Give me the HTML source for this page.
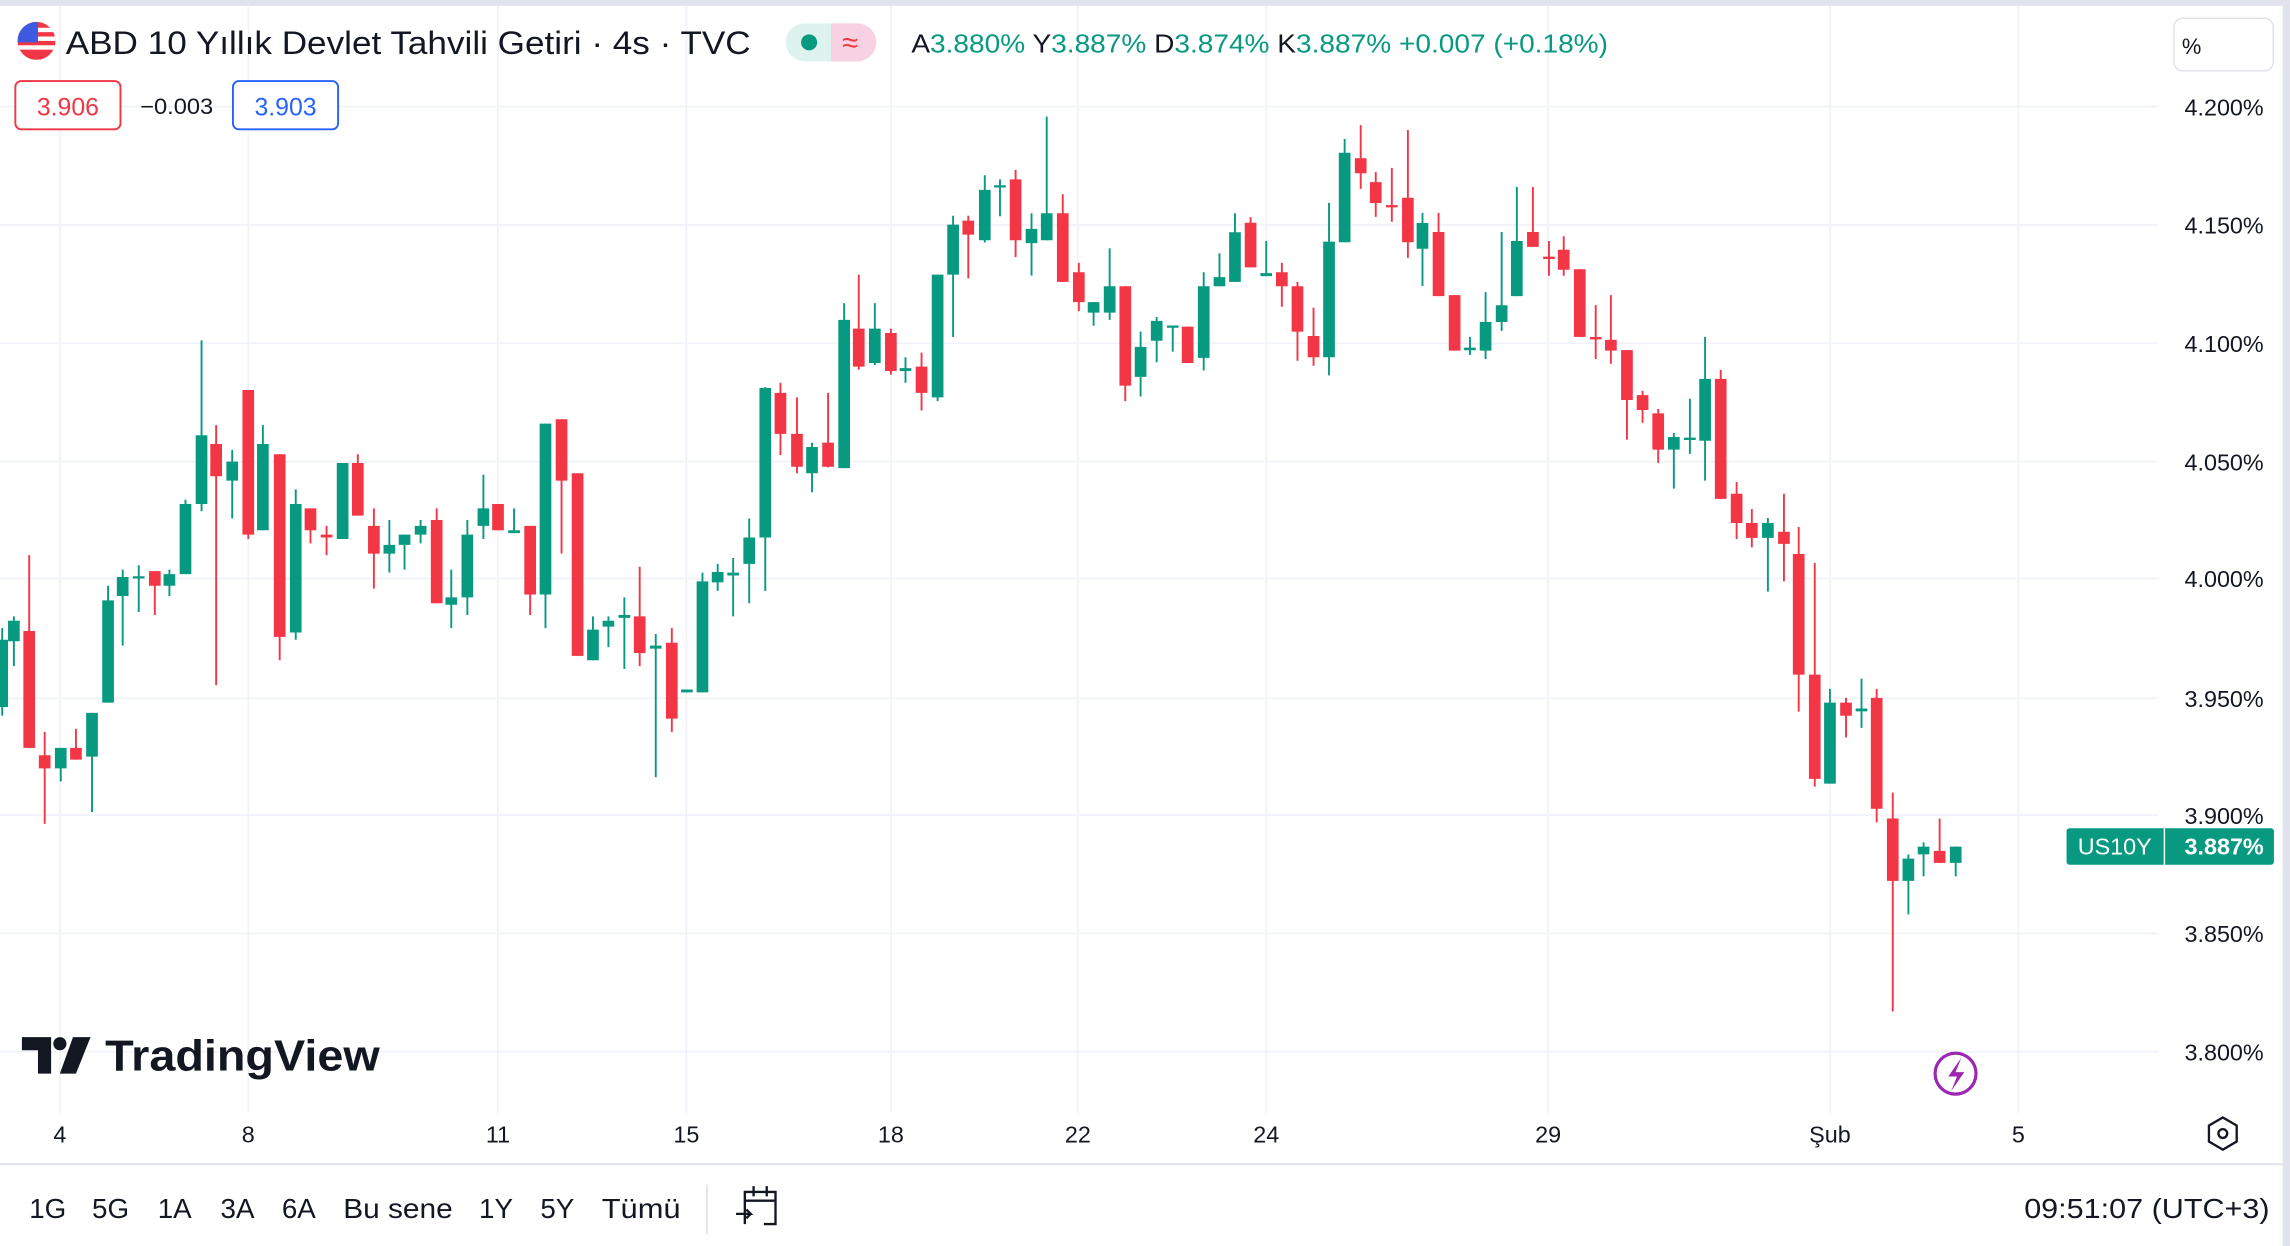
<!DOCTYPE html>
<html><head><meta charset="utf-8"><style>
html,body{margin:0;padding:0;background:#fff;}
svg{display:block;}
text{font-family:"Liberation Sans",sans-serif;fill:#131722;}
</style></head><body>
<svg width="2290" height="1246" viewBox="0 0 1568 853" preserveAspectRatio="none" xmlns="http://www.w3.org/2000/svg">
<rect x="0" y="0" width="1568" height="853" fill="#fff"/>
<rect x="0" y="0" width="1568" height="4" fill="#e0e3eb"/>
<rect x="1563" y="0" width="5" height="853" fill="#e0e3eb"/>
<!-- grid -->
<g stroke="#f0f3fa" stroke-width="1.2">
<path d="M0 73H1478M0 154H1478M0 235H1478M0 316H1478M0 396H1478M0 478H1478M0 558H1478M0 639H1478M0 720H1478"/>
<path d="M41 4V762M170 4V762M341 4V762M470 4V762M610 4V762M738 4V762M867 4V762M1060 4V762M1253 4V762M1382 4V762"/>
</g>
<line x1="0" y1="797" x2="1563" y2="797" stroke="#e0e3eb" stroke-width="1.5"/>
<!-- candles -->
<g stroke="#089981" stroke-width="1.3" fill="none">
<path d="M1.5 430V490M9.5 422V456M41.6 512V535M63 488V556M74 401V481M84 390V442M95 387V419M116 390V408M127 342V393M138 233V350M159 308V355M180 291V363M202.5 335V438M234.6 317V369M266.6 356V392M277 366V390M288 356V372M309 390V430M320 356V421M331 325V369M352 348V365M373.5 290V430M406 422V452M416.6 422V443M427.5 409V458M449 434V532M470.3 472V474M481 392V474M491.4 386V404.5M502 382V422M513 355V413M524 265V404.5M556 303V337M578 207.5V320.5M599 207.5V250M620 244.6V262M642 188V274.6M652.6 147.7V230.7M674.3 120V166M684.7 122.8V148M706.3 146V188.7M716.7 79.8V164.5M748.8 206.8V223M759.8 170V219M781 227V271.4M792 217V248M803 222.8V240.7M824.2 186.4V253.6M835 173.5V196M845.6 146V193M867 165V189M910 139V257M920.7 95.2V165.8M974 145.7V195.8M1006.5 230.6V243M1017.2 200V245.8M1028.2 158.8V226.5M1038.6 128V202.7M1146.1 296.3V334.5M1157.1 273V310.7M1167.5 230.6V329M1210.5 354.6V405M1253 471.6V536.5M1274.6 464.6V498.3M1306.7 585V626M1317.1 576.7V600M1339.1 579.6V600"/>
</g>
<g stroke="#f23645" stroke-width="1.3" fill="none">
<path d="M20 380V512M30.6 501V564M52 499V520M106 391V421M148 291V469M170 267V369M191.5 311V452M212.6 348V372M223.6 360V380M245 311V353M256 348V403M299 348V413M341 345V363M363 360V421M384.5 287V379M395.5 324V449M438 388V456M460 430V501M534.4 262V311.5M545.7 272V324M567 269V320M588 188V253M610 225V256.5M631 241.4V281M663 147.7V190.6M695.4 116.3V176M727.7 133V193M738.7 180V213M770.5 196V274.6M813.2 223.6V248.5M856.3 148.6V183M877.7 180V210M888.4 193V247M899.4 210.7V250.4M931.7 85.7V129.3M942 117.8V148.5M953 114.9V151.8M964 89V176.5M985 145.7V202.7M996 202V240M1049.6 128V169M1060.6 165V188.8M1070.7 161.7V188.8M1081.7 184.3V230.6M1092.6 208.9V245.8M1103 202V249M1114 239.7V301M1124.7 267.6V289.4M1135.4 280V316.9M1178.2 253.2V341.5M1189.1 330V369M1199.5 348.5V374.7M1221.5 338V398M1231.6 360.8V487.2M1242.6 385.4V538.5M1264 477.8V504.9M1285 471.6V563M1296 542.6V692.5M1328.1 560.3V590.7"/>
</g>
<path fill="#089981" d="M-2.5 438h8v46h-8zM5.5 425h8v14h-8zM37.6 512h8v14h-8zM59 488h8v30h-8zM70 411h8v70h-8zM80 395h8v13h-8zM91 394.5h8v1.5h-8zM112 393h8v8h-8zM123 345h8v48h-8zM134 298h8v47h-8zM155 316h8v13h-8zM176 304h8v59h-8zM198.5 345h8v88h-8zM230.6 317h8v52h-8zM262.6 373h8v6h-8zM273 366h8v7h-8zM284 360h8v6h-8zM305 409h8v5h-8zM316 366h8v43h-8zM327 348h8v12h-8zM348 363h8v2h-8zM369.5 290h8v117h-8zM402 431h8v21h-8zM412.6 425h8v4h-8zM423.5 421h8v2h-8zM445 442h8v2h-8zM466.3 472h8v2h-8zM477 398h8v76h-8zM487.4 391.6h8v7.1h-8zM498 392h8v2h-8zM509 368h8v18h-8zM520 265.6h8v102.4h-8zM552 306h8v18h-8zM574 219h8v101.5h-8zM595 225h8v23.5h-8zM616 252h8v2h-8zM638 188h8v84h-8zM648.6 153.8h8v34.2h-8zM670.3 130h8v34.5h-8zM680.7 126.8h8v1.6h-8zM702.3 156.7h8v9.7h-8zM712.7 146h8v18.5h-8zM744.8 206.8h8v7.2h-8zM755.8 196h8v18h-8zM777 237.5h8v20.5h-8zM788 219.7h8v13.6h-8zM799 222.8h8v1.6h-8zM820.2 196h8v49h-8zM831 189.7h8v6.3h-8zM841.6 159h8v34h-8zM863 187h8v2h-8zM906 165.4h8v79.2h-8zM916.7 104.6h8v61.2h-8zM970 152.7h8v17.6h-8zM1002.5 238h8v1.8h-8zM1013.2 220.4h8v19.6h-8zM1024.2 209h8v11.4h-8zM1034.6 165h8v37.7h-8zM1142.1 299.2h8v8.6h-8zM1153.1 299.6h8v1.6h-8zM1163.5 259.4h8v42.3h-8zM1206.5 358h8v10.2h-8zM1249 481h8v55.5h-8zM1270.6 485h8v2h-8zM1302.7 587.8h8v15.2h-8zM1313.1 579.6h8v5.3h-8zM1335.1 579.6h8v11.1h-8z"/>
<path fill="#f23645" d="M16 432h8v80h-8zM26.6 517h8v9h-8zM48 512h8v8h-8zM102 391h8v10h-8zM144 304h8v22h-8zM166 267h8v99h-8zM187.5 311h8v125h-8zM208.6 348h8v15h-8zM219.6 366h8v2h-8zM241 317h8v36h-8zM252 360h8v19h-8zM295 356h8v57h-8zM337 345h8v18h-8zM359 360h8v47h-8zM380.5 287h8v42h-8zM391.5 324h8v125h-8zM434 422h8v25h-8zM456 440h8v52h-8zM530.4 269h8v28h-8zM541.7 297h8v22.5h-8zM563 303h8v16.5h-8zM584 225h8v26h-8zM606 228h8v26h-8zM627 251h8v18h-8zM659 151h8v9.6h-8zM691.4 122.8h8v41.7h-8zM723.7 146h8v47h-8zM734.7 186.4h8v20.4h-8zM766.5 196h8v68h-8zM809.2 223.6h8v24.9h-8zM852.3 152.5h8v30.5h-8zM873.7 186.4h8v9.6h-8zM884.4 196h8v31h-8zM895.4 230h8v14.6h-8zM927.7 108.3h8v10.3h-8zM938 124.7h8v14.3h-8zM949 140.4h8v1.6h-8zM960 135.4h8v30.4h-8zM981 158.8h8v43.9h-8zM992 202h8v38h-8zM1045.6 158.8h8v10.2h-8zM1056.6 175.7h8v1.6h-8zM1066.7 171h8v13.7h-8zM1077.7 184.3h8v46.3h-8zM1088.6 230.7h8v1.6h-8zM1099 232.7h8v7.3h-8zM1110 239.7h8v34.1h-8zM1120.7 270.5h8v10.2h-8zM1131.4 283h8v24.8h-8zM1174.2 259.4h8v82.1h-8zM1185.1 338h8v20h-8zM1195.5 358h8v10.2h-8zM1217.5 364h8v8.3h-8zM1227.6 379.3h8v82.5h-8zM1238.6 461.8h8v71.4h-8zM1260 481h8v9h-8zM1281 477.8h8v75.9h-8zM1292 560.3h8v42.7h-8zM1324.1 582.5h8v8.2h-8z"/>
<!-- header -->
<g>
<clipPath id="fc"><circle cx="25" cy="28" r="13"/></clipPath>
<g clip-path="url(#fc)">
<rect x="12" y="15" width="26" height="26" fill="#f23645"/>
<rect x="12" y="19" width="26" height="3" fill="#fff"/>
<rect x="12" y="25" width="26" height="3" fill="#fff"/>
<rect x="12" y="31" width="26" height="3" fill="#fff"/>
<rect x="12" y="15" width="14" height="14" fill="#3d5ae0"/>
</g>
<text x="45" y="37" font-size="22" textLength="469" lengthAdjust="spacingAndGlyphs">ABD 10 Yıllık Devlet Tahvili Getiri · 4s · TVC</text>
<rect x="538" y="16" width="62" height="26" rx="13" fill="#dff3ee"/>
<path d="M569 16h18a13 13 0 0 1 0 26h-18z" fill="#f8d2e2"/>
<circle cx="554" cy="29" r="5.5" fill="#089981"/>
<text x="582" y="36" font-size="20" text-anchor="middle" style="fill:#f23645">≈</text>
<text x="624" y="36" font-size="18" textLength="477" lengthAdjust="spacingAndGlyphs">A<tspan style="fill:#089981">3.880%</tspan> Y<tspan style="fill:#089981">3.887%</tspan> D<tspan style="fill:#089981">3.874%</tspan> K<tspan style="fill:#089981">3.887%</tspan> <tspan style="fill:#089981">+0.007 (+0.18%)</tspan></text>
<rect x="10.5" y="55.5" width="72" height="33" rx="4" fill="#fff" stroke="#f23645" stroke-width="1.3"/>
<text x="46.5" y="79" font-size="17" text-anchor="middle" style="fill:#f23645">3.906</text>
<text x="96" y="78" font-size="15" textLength="50" lengthAdjust="spacingAndGlyphs">−0.003</text>
<rect x="159.5" y="55.5" width="72" height="33" rx="4" fill="#fff" stroke="#2962ff" stroke-width="1.3"/>
<text x="195.5" y="79" font-size="17" text-anchor="middle" style="fill:#2962ff">3.903</text>
<rect x="1488.5" y="12.5" width="68" height="36" rx="6" fill="#fff" stroke="#e0e3eb"/>
<text x="1494" y="37" font-size="15">%</text>
</g>
<!-- price axis -->
<g font-size="16" text-anchor="end">
<text x="1550" y="79">4.200%</text>
<text x="1550" y="160">4.150%</text>
<text x="1550" y="241">4.100%</text>
<text x="1550" y="322">4.050%</text>
<text x="1550" y="402">4.000%</text>
<text x="1550" y="484">3.950%</text>
<text x="1550" y="564">3.900%</text>
<text x="1550" y="645">3.850%</text>
<text x="1550" y="726">3.800%</text>
</g>
<rect x="1415" y="567" width="142" height="25" rx="2" fill="#089981"/>
<line x1="1482" y1="567" x2="1482" y2="592" stroke="#fff" stroke-width="1"/>
<text x="1448" y="585" font-size="16" text-anchor="middle" style="fill:#fff">US10Y</text>
<text x="1550" y="585" font-size="16" text-anchor="end" style="fill:#fff;font-weight:bold">3.887%</text>
<!-- time axis -->
<g font-size="16" text-anchor="middle">
<text x="41" y="782">4</text><text x="170" y="782">8</text><text x="341" y="782">11</text><text x="470" y="782">15</text><text x="610" y="782">18</text><text x="738" y="782">22</text><text x="867" y="782">24</text><text x="1060" y="782">29</text><text x="1253" y="782">Şub</text><text x="1382" y="782">5</text>
</g>
<path d="M1522 765l9.5 5.5v11l-9.5 5.5l-9.5-5.5v-11z" fill="none" stroke="#131722" stroke-width="1.6"/>
<circle cx="1522" cy="776" r="3" fill="none" stroke="#131722" stroke-width="1.6"/>
<!-- lightning -->
<circle cx="1339" cy="735" r="14" fill="#fff" stroke="#9c27b0" stroke-width="2.2"/>
<path d="M1343 724l-9 13h6l-4 10l9-13h-6z" fill="#9c27b0"/>
<!-- logo -->
<path d="M15 710h20v25h-9v-16h-11z" fill="#131722"/>
<circle cx="41" cy="714.5" r="4.5" fill="#131722"/>
<path d="M50 710h12l-10 25h-11z" fill="#131722"/>
<text x="72" y="733" font-size="30" font-weight="bold" textLength="188" lengthAdjust="spacingAndGlyphs">TradingView</text>
<!-- bottom bar -->
<g font-size="19">
<text x="20" y="834">1G</text><text x="63" y="834">5G</text><text x="108" y="834">1A</text><text x="151" y="834">3A</text><text x="193" y="834">6A</text><text x="235" y="834" textLength="75" lengthAdjust="spacingAndGlyphs">Bu sene</text><text x="328" y="834">1Y</text><text x="370" y="834">5Y</text><text x="412" y="834" textLength="54" lengthAdjust="spacingAndGlyphs">Tümü</text>
</g>
<line x1="484" y1="811" x2="484" y2="845" stroke="#e0e3eb" stroke-width="1.2"/>
<g fill="none" stroke="#131722" stroke-width="1.6">
<path d="M510 838v-22h21v22h-8"/>
<path d="M510 822h21M516 812v7M525 812v7"/>
<path d="M504 831h10l-3-3M514 831l-3 3"/>
</g>
<text x="1554" y="834" font-size="19" text-anchor="end" textLength="168" lengthAdjust="spacingAndGlyphs">09:51:07 (UTC+3)</text>
</svg>
</body></html>
